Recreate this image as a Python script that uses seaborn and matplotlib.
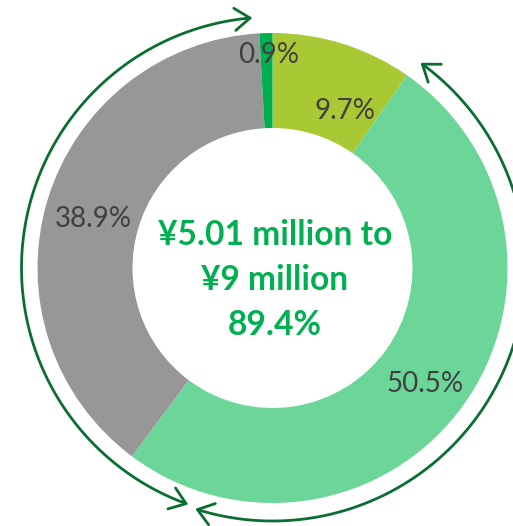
import numpy as np
import matplotlib
matplotlib.use("Agg")
import matplotlib.pyplot as plt
import seaborn as sns
from matplotlib.patches import FancyArrowPatch, ArrowStyle
from matplotlib.path import Path

# Income-band shares, clockwise from 12 o'clock
shares = [9.7, 50.5, 38.9, 0.9]
share_labels = ["9.7%", "50.5%", "38.9%", "0.9%"]
slice_colors = ["#A9C934", "#6CD699", "#979797", "#00B050"]
center_lines = ["¥5.01 million to", "¥9 million", "89.4%"]

# label placement: distance from centre (px) and angular nudge (deg)
label_radius = [175, 190, 187, 216]
label_nudge = [-7.0, -0.7, 0.6, -0.6]

sns.set_theme(style="white")
plt.rcParams["font.family"] = ["Lato", "DejaVu Sans"]

W, H = 513, 526
fig = plt.figure(figsize=(W / 100, H / 100), dpi=100)
ax = fig.add_axes([0, 0, 1, 1])

cx, cy = 272.5, H - 268
r_out, ring = 235, 95

palette = sns.color_palette(slice_colors)
wedges, _ = ax.pie(shares, colors=palette, startangle=90, counterclock=False,
                   radius=r_out, center=(cx, cy),
                   wedgeprops=dict(width=ring, linewidth=0))
ax.set_xlim(0, W)
ax.set_ylim(0, H)
ax.set_aspect("equal")
ax.axis("off")

for w, lab, rr, dn in zip(wedges, share_labels, label_radius, label_nudge):
    mid = np.radians((w.theta1 + w.theta2) / 2 + dn)
    ax.text(cx + rr * np.cos(mid), cy + rr * np.sin(mid), lab,
            ha="center", va="center_baseline", fontsize=20, color="#404040")

# centre caption
for i, line in enumerate(center_lines):
    ax.text(cx + 2.5, H - 245 - 45 * i, line, ha="center", va="baseline",
            fontsize=24.2, fontweight="bold", color="#00B050")

# double-headed range arcs around the ring
arrow_color = "#0A6E32"


def arc_arrow(r, a0, a1):
    t = np.radians(np.linspace(a0, a1, 200))
    verts = np.column_stack([cx + r * np.cos(t), cy + r * np.sin(t)])
    codes = [Path.MOVETO] + [Path.LINETO] * (len(verts) - 1)
    arr = FancyArrowPatch(path=Path(verts, codes),
                          arrowstyle=ArrowStyle("<->", head_length=0.55, head_width=0.4),
                          mutation_scale=20, color=arrow_color, lw=2.0,
                          shrinkA=0, shrinkB=0)
    ax.add_patch(arr)


arc_arrow(251, 94.6, 250.4)
arc_arrow(253, -107.8, 54.2)

fig.savefig("out.png", dpi=100)
